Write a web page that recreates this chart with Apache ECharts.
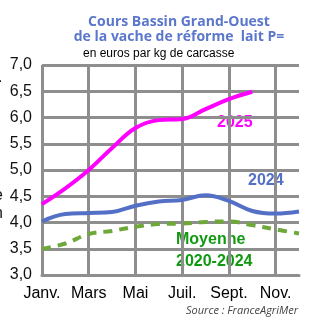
<!DOCTYPE html>
<html><head><meta charset="utf-8">
<script src="https://cdn.jsdelivr.net/npm/echarts@6/dist/echarts.min.js"></script>
<style>html,body{margin:0;padding:0;background:#fff}#c{width:324px;height:324px}</style>
</head><body><div id="c"></div>
<script>
const months = ["Janv.","Févr.","Mars","Avril","Mai","Juin","Juil.","Août","Sept.","Oct.","Nov.","Déc."];
const s2025 = [4.35, 4.65, 5.0, 5.42, 5.8, 5.95, 5.97, 6.16, 6.35, 6.49, null, null];
const s2024 = [4.02, 4.16, 4.18, 4.2, 4.32, 4.40, 4.43, 4.52, 4.41, 4.22, 4.17, 4.21];
const sAvg = [3.50, 3.60, 3.78, 3.84, 3.92, 3.97, 3.98, 4.01, 4.02, 3.95, 3.87, 3.79];
const yMin = 3, yMax = 7, yStep = 0.5;

const grid = '#8e8e8e';
const labFont = '"Liberation Sans Narrow", "Liberation Sans", Arial, sans-serif';
const chart = echarts.init(document.getElementById('c'), null, {renderer: 'canvas'});
chart.setOption({
  animation: false,
  backgroundColor: '#fff',
  title: [{
    text: 'Cours Bassin Grand-Ouest\nde la vache de réforme  lait P=',
    left: 174, top: 10, textAlign: 'center',
    textStyle: {color: '#5b77cc', fontSize: 14, fontWeight: 'bold', fontFamily: '"Open Sans", sans-serif', lineHeight: 15}
  }, {
    text: 'en euros par kg de carcasse',
    left: 78, top: 43,
    textStyle: {color: '#000', fontSize: 12, fontWeight: 'normal', fontFamily: '"Liberation Sans", Arial, sans-serif'}
  }],
  grid: {left: 42, right: 25, top: 65, bottom: 49},
  xAxis: {
    type: 'category', data: months, boundaryGap: false,
    axisLine: {lineStyle: {color: grid, width: 3}},
    axisTick: {show: false},
    splitLine: {show: true, lineStyle: {color: grid, width: 3}},
    axisLabel: {interval: 1, color: '#000', fontSize: 16, fontFamily: labFont, margin: 11}
  },
  yAxis: {
    type: 'value', min: yMin, max: yMax, interval: yStep,
    axisLine: {show: false}, axisTick: {show: false},
    splitLine: {lineStyle: {color: grid, width: 3}},
    axisLabel: {color: '#111', fontSize: 16, fontFamily: labFont, margin: 10,
      formatter: v => v.toFixed(1).replace('.', ',')}
  },
  series: [
    {name: 'Moyenne 2020-2024', type: 'line', data: sAvg, smooth: 0.4, symbol: 'none',
     lineStyle: {color: '#6ea83a', width: 4, type: [9, 7]}},
    {name: '2024', type: 'line', data: s2024, smooth: 0.4, symbol: 'none',
     lineStyle: {color: '#5470c6', width: 4}},
    {name: '2025', type: 'line', data: s2025, smooth: 0.4, symbol: 'none',
     lineStyle: {color: '#ff00ff', width: 4}}
  ],
  graphic: [
    {type: 'text', left: 217, top: 115, style: {text: '2025', fill: '#ff00ff', font: 'bold 16px "Liberation Sans", Arial, sans-serif'}},
    {type: 'text', left: 248, top: 173, style: {text: '2024', fill: '#5470c6', font: 'bold 16px "Liberation Sans", Arial, sans-serif'}},
    {type: 'text', left: 176, top: 232, style: {text: 'Moyenne', fill: '#119a11', font: 'bold 16px "Liberation Sans", Arial, sans-serif'}},
    {type: 'text', left: 176, top: 254, style: {text: '2020-2024', fill: '#119a11', font: 'bold 16px "Liberation Sans", Arial, sans-serif'}},
    {type: 'text', right: 26, top: 305, style: {text: 'Source : FranceAgriMer', fill: '#444', font: 'italic 11px "Open Sans", sans-serif'}},
    {type: 'text', x: -2, y: 70, style: {text: '.', fill: '#111', font: '16px "Liberation Sans", Arial, sans-serif'}},
    {type: 'text', x: -6, y: 188, style: {text: 'e', fill: '#111', font: '16px "Liberation Sans", Arial, sans-serif'}},
    {type: 'text', x: -6, y: 206, style: {text: 'n', fill: '#111', font: '16px "Liberation Sans", Arial, sans-serif'}}
  ]
});
</script></body></html>
